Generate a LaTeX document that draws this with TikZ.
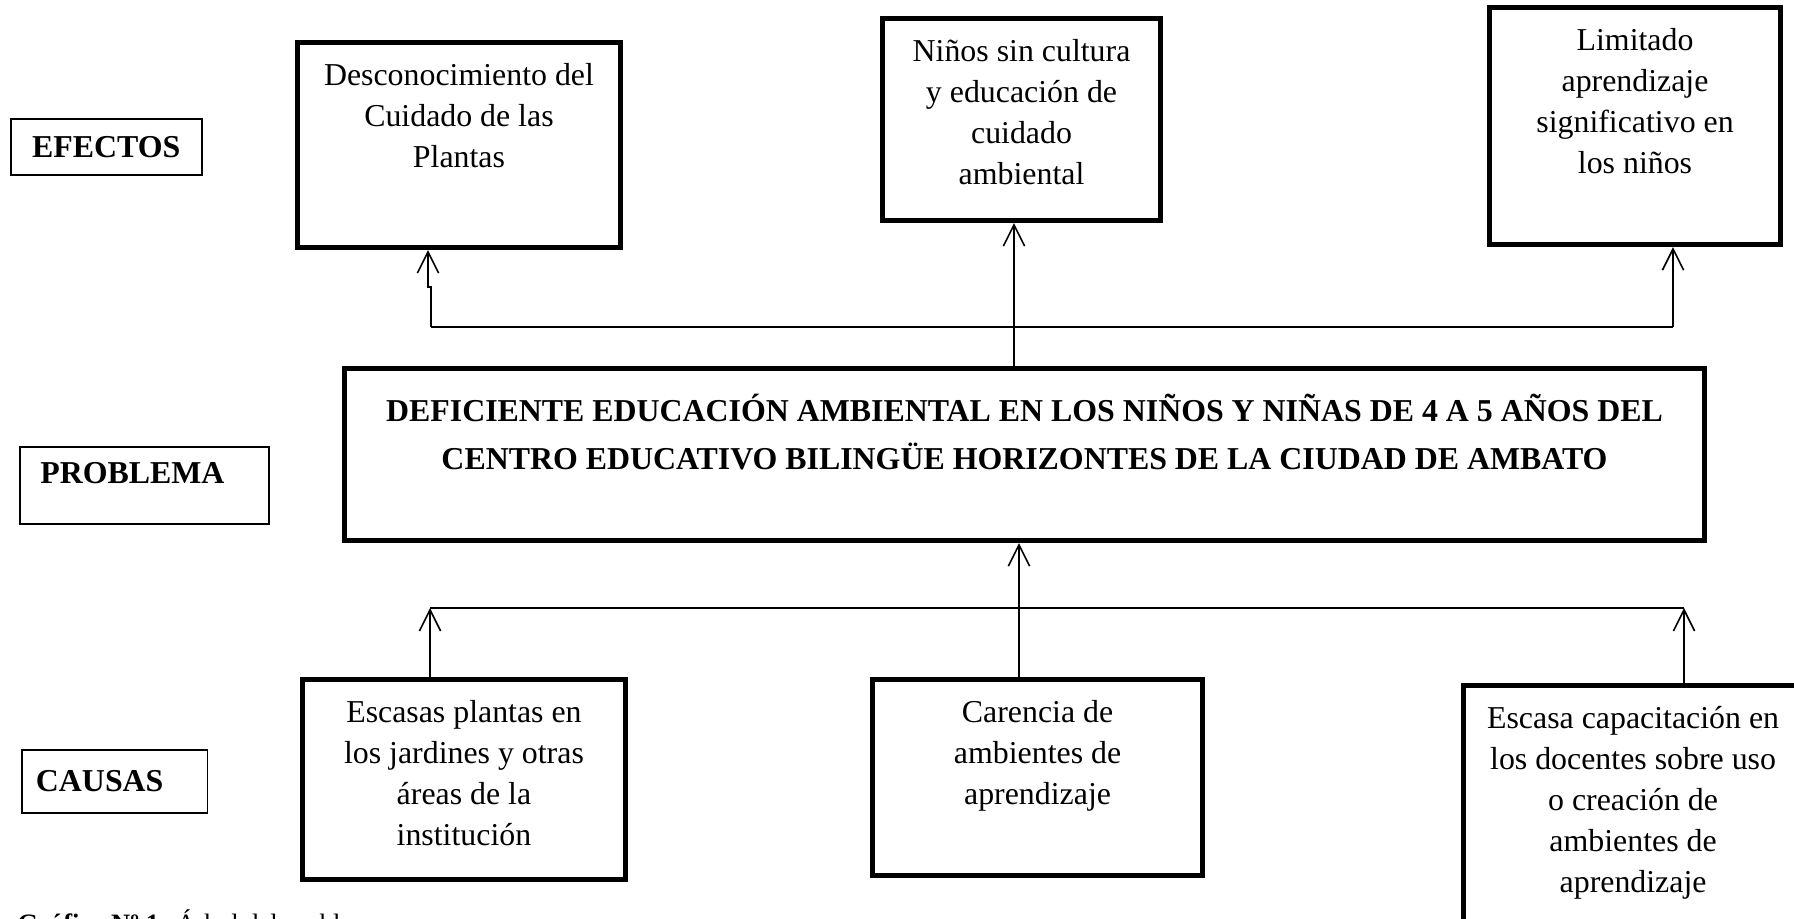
\documentclass[tikz,border=0pt]{standalone}
\usepackage{fontspec}
\setmainfont{Liberation Serif}
\usetikzlibrary{arrows.meta}
\newcommand{\boxtxt}[3]{\parbox[t][#2][t]{#1}{\centering\vspace*{8pt}#3}}

\begin{document}
\begin{tikzpicture}[x=0.3766pt, y=-0.3766pt,
		main/.style = {draw, line width=1.9pt, anchor=north west, inner sep=0pt, font=\fontsize{12}{15.4}\selectfont},
		tag/.style = {draw, line width=0.6pt, anchor=north west, inner sep=0pt, font=\fontsize{12}{14}\selectfont\bfseries},
		arr/.style = {-{Straight Barb[length=8pt,width=8pt]}, line width=0.6pt}]
		\useasboundingbox (0,0) rectangle (1794,918);
		% labels on the left
		\node[tag, minimum width=71.9pt, minimum height=21.1pt] (lefe) at (10,118) {EFECTOS};
		\node[tag, minimum width=93.8pt, minimum height=29pt] (lprob) at (19,446) {PROBLEMA\hspace*{9pt}\rule[-9.4pt]{0pt}{9.4pt}};
		\node[tag, minimum width=70pt, minimum height=23.7pt] (lcau) at (21,749) {CAUSAS\hspace*{11.3pt}};
		% efectos
		\node[main] (e1) at (295,40) {\boxtxt{121.6pt}{77.2pt}{Desconocimiento del\\ Cuidado de las\\ Plantas}};
		\node[main] (e2) at (880,16) {\boxtxt{104.7pt}{76.1pt}{Niños sin cultura\\ y educación de\\ cuidado\\ ambiental}};
		\node[main] (e3) at (1487,5) {\boxtxt{109.6pt}{89.3pt}{Limitado\\ aprendizaje\\ significativo en\\ los niños}};
		% problema
		\node[main, font=\fontsize{12}{18.1}\selectfont\bfseries] (prob) at (342,366) {\boxtxt{512.2pt}{64.8pt}{\vspace*{1.5pt}DEFICIENTE EDUCACIÓN AMBIENTAL EN LOS NIÑOS Y NIÑAS DE 4 A 5 AÑOS DEL\\ CENTRO EDUCATIVO BILINGÜE HORIZONTES DE LA CIUDAD DE AMBATO}};
		% causas
		\node[main] (c1) at (300,677) {\boxtxt{121.6pt}{75.3pt}{Escasas plantas en\\ los jardines y otras\\ áreas de la\\ institución}};
		\node[main] (c2) at (870,677) {\boxtxt{124.3pt}{73.8pt}{Carencia de\\ ambientes de\\ aprendizaje}};
		\node[main] (c3) at (1461,683) {\boxtxt{127.7pt}{90pt}{Escasa capacitación en\\ los docentes sobre uso\\ o creación de\\ ambientes de\\ aprendizaje}};
		\node[anchor=base west, inner sep=0pt, font=\fontsize{10}{12}\selectfont] (cap) at (17,932) {\textbf{Gráfico Nº 1:} Árbol del problema};
		% connectors
		\coordinate (et1) at (431,327);
		\coordinate (et2) at (1014,327);
		\coordinate (et3) at (1673,327);
		\coordinate (ej) at (428,287);
		\draw[line width=0.6pt] (et1) -- (et3);
		\draw[arr] (et1) -- (et1 |- ej) -- (ej) -- (ej |- e1.south);
		\draw[arr] (prob.north -| et2) -- (et2 |- e2.south);
		\draw[arr] (et3) -- (et3 |- e3.south);
		\coordinate (ct1) at (430,608);
		\coordinate (ct2) at (1019,608);
		\coordinate (ct3) at (1684,608);
		\draw[line width=0.6pt] (ct1) -- (ct3);
		\draw[arr] (ct1 |- c1.north) -- (ct1);
		\draw[arr] (ct2 |- c2.north) -- (ct2 |- prob.south);
		\draw[arr] (ct3 |- c3.north) -- (ct3);
	\end{tikzpicture}
\end{document}
